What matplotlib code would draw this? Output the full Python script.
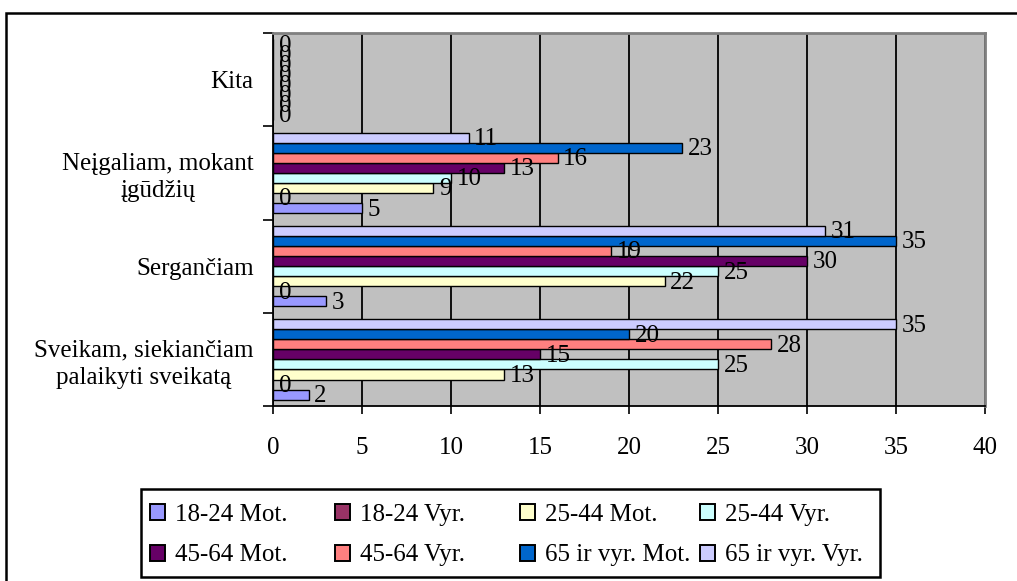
import matplotlib
matplotlib.use("Agg")
import matplotlib.pyplot as plt
from matplotlib.patches import Patch, Rectangle
import numpy as np

plt.rcParams['font.family'] = ['Liberation Serif', 'DejaVu Serif']

# Categories, bottom to top
categories = [
    "Sveikam, siekiančiam\npalaikyti sveikatą",
    "Sergančiam",
    "Neįgaliam, mokant\nįgūdžių",
    "Kita",
]

# Series values per category (same order as categories)
mot_18_24 = [2, 3, 5, 0]
vyr_18_24 = [0, 0, 0, 0]
mot_25_44 = [13, 22, 9, 0]
vyr_25_44 = [25, 25, 10, 0]
mot_45_64 = [15, 30, 13, 0]
vyr_45_64 = [28, 19, 16, 0]
mot_65 = [20, 35, 23, 0]
vyr_65 = [35, 31, 11, 0]

series_names = ["18-24 Mot.", "18-24 Vyr.", "25-44 Mot.", "25-44 Vyr.",
                "45-64 Mot.", "45-64 Vyr.", "65 ir vyr. Mot.", "65 ir vyr. Vyr."]
series_values = [mot_18_24, vyr_18_24, mot_25_44, vyr_25_44,
                 mot_45_64, vyr_45_64, mot_65, vyr_65]
colors = ["#9999FF", "#993366", "#FFFFCC", "#CCFFFF",
          "#660066", "#FF8080", "#0066CC", "#CCCCFF"]

x_ticks = [0, 5, 10, 15, 20, 25, 30, 35, 40]

FS = 18

fig = plt.figure(figsize=(10.17, 5.81), dpi=100)
fig.patch.set_facecolor("white")

# Outer chart frame (runs off the right and bottom edges)
fig.add_artist(Rectangle((6 / 1017, -0.1), 1.2, (1 - 13 / 581) + 0.1,
                         transform=fig.transFigure, fill=False,
                         edgecolor="black", linewidth=1.8))

ax = fig.add_axes([273 / 1017, 1 - 406 / 581, (985 - 273) / 1017, (406 - 33) / 581])
ax.set_facecolor("#C0C0C0")

n = len(series_values)
bar_h = 0.108
y_base = np.arange(len(categories))
start = -n * bar_h / 2

for i, (vals, col) in enumerate(zip(series_values, colors)):
    y = y_base + start + bar_h * (i + 0.5)
    ax.barh(y, vals, height=bar_h, color=col, edgecolor="black",
            linewidth=1.0, zorder=3)
    for yy, v in zip(y, vals):
        ax.annotate(str(v), xy=(v, yy), xytext=(4, -1), textcoords="offset points",
                    ha="left", va="center", fontsize=FS, zorder=4)

ax.set_xlim(0, 40)
ax.set_ylim(-0.5, len(categories) - 0.5)

ax.set_xticks(x_ticks)
ax.set_xticklabels([str(t) for t in x_ticks])
ax.tick_params(axis="x", direction="out", length=6, width=1.2, pad=16,
               labelsize=FS, colors="black")
ax.xaxis.grid(True, color="black", linewidth=1.3)
ax.set_axisbelow(True)

# Boundary ticks between categories, labels centred on each group
ax.set_yticks(np.arange(-0.5, len(categories), 1.0))
ax.set_yticklabels([])
ax.set_yticks(y_base, minor=True)
ax.set_yticklabels(categories, minor=True, fontsize=FS, ha="right",
                   multialignment="center", linespacing=1.3)
ax.tick_params(axis="y", which="major", direction="out", length=7, width=1.2)
ax.tick_params(axis="y", which="minor", length=0, pad=14)

for side in ("left", "bottom"):
    ax.spines[side].set_color("black")
    ax.spines[side].set_linewidth(1.3)
for side in ("top", "right"):
    ax.spines[side].set_color("#808080")
    ax.spines[side].set_linewidth(2.0)

# Legend: two rows, four columns, inside a framed box
handles = [Patch(facecolor=c, edgecolor="black", linewidth=1.4) for c in colors]
col_x = [150, 335, 520, 700]
row_y = 1 - 535 / 581
for j, cx in enumerate(col_x):
    idx = [j, j + 4]
    fig.legend([handles[k] for k in idx], [series_names[k] for k in idx],
               loc="center left", bbox_to_anchor=(cx / 1017, row_y),
               frameon=False, fontsize=FS, handlelength=0.6, handleheight=0.6,
               handletextpad=0.4, labelspacing=0.75, borderpad=0,
               borderaxespad=0)
fig.add_artist(Rectangle((141 / 1017, 1 - 577 / 581), (880 - 141) / 1017,
                         (577 - 489) / 581, transform=fig.transFigure,
                         fill=False, edgecolor="black", linewidth=1.8))

fig.savefig("out.png", dpi=100)
